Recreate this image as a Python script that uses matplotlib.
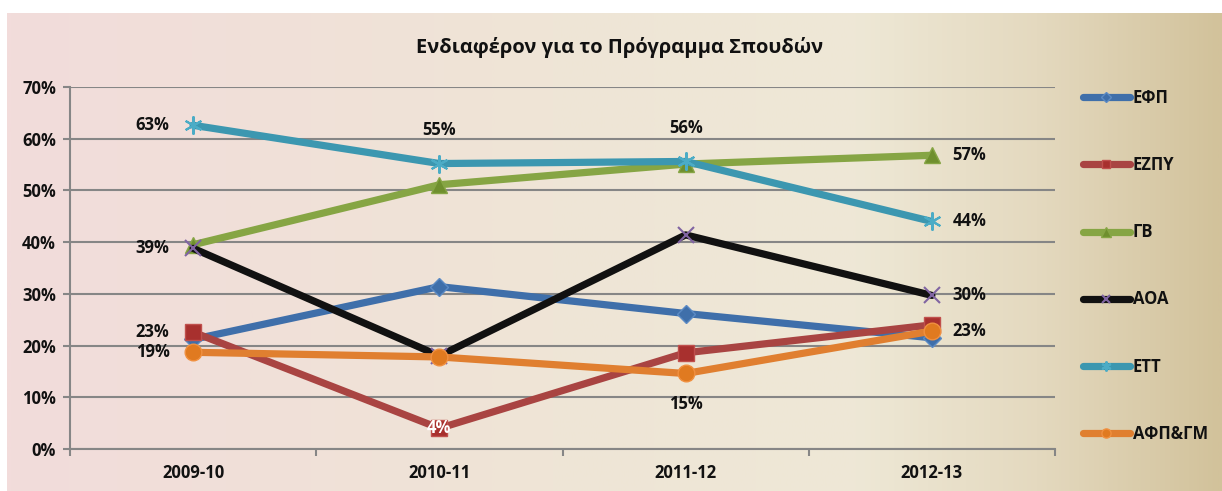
import numpy as np
import matplotlib
matplotlib.use("Agg")
import matplotlib.pyplot as plt
from matplotlib.colors import LinearSegmentedColormap
from matplotlib.ticker import PercentFormatter, FixedLocator

plt.rcParams['font.family'] = ['Open Sans', 'DejaVu Sans']

# ---- data ----
years = ["2009-10", "2010-11", "2011-12", "2012-13"]
efp = [0.212, 0.314, 0.262, 0.215]
ezpy = [0.226, 0.040, 0.186, 0.240]
gv = [0.395, 0.511, 0.551, 0.568]
aoa = [0.388, 0.180, 0.414, 0.297]
ett = [0.626, 0.552, 0.556, 0.440]
afp = [0.187, 0.178, 0.146, 0.228]

series_names = ["ΕΦΠ", "ΕΖΠΥ", "ΓΒ", "ΑΟΑ", "ΕΤΤ", "ΑΦΠ&ΓΜ"]
title = "Ενδιαφέρον για το Πρόγραμμα Σπουδών"

W, H = 1222, 491
fig = plt.figure(figsize=(W / 100, H / 100), dpi=100)
fig.patch.set_facecolor("white")

# gradient chart background
bg = fig.add_axes([7 / W, 0, 1 - 7 / W, 1 - 13 / H], zorder=-10)
cmap = LinearSegmentedColormap.from_list(
    "bg", [(0.0, "#F2DCDB"), (0.45, "#EFE5D6"), (0.7, "#EEE8D6"),
           (0.85, "#E4D9BF"), (1.0, "#D2C29B")])
bg.imshow(np.linspace(0, 1, 512)[None, :], aspect="auto", cmap=cmap,
          extent=[0, 1, 0, 1])
bg.set_axis_off()

ax = fig.add_axes([70 / W, 1 - 449 / H, 985 / W, (449 - 87) / H])
ax.set_facecolor("none")

x = np.arange(len(years))
lw = 5.2

styles = [
    (efp, dict(color="#3F6FAA", marker="D", mfc="#3F6FAA", mec="#5B8AC4", ms=9)),
    (ezpy, dict(color="#A94442", marker="s", mfc="#A8302E", mec="#C0504D", ms=11)),
    (gv, dict(color="#86A544", marker="^", mfc="#6F8F2E", mec="#86A544", ms=12)),
    (aoa, dict(color="#111111", marker="x", mfc="#8064A2", mec="#8064A2", ms=11, mew=1.5)),
    (ett, dict(color="#3C97B0", marker=(6, 2, 0), mfc="#4BACC6", mec="#4BACC6", ms=13, mew=1.5)),
    (afp, dict(color="#E07F30", marker="o", mfc="#E07A20", mec="#F09040", ms=12)),
]

handles = []
for (vals, st), name in zip(styles, series_names):
    st = dict(st)
    mew = st.pop("mew", 1.0)
    h, = ax.plot(x, vals, lw=lw, solid_capstyle="round", solid_joinstyle="round",
                 markeredgewidth=mew, label=name, zorder=3, **st)
    handles.append(h)

# data labels
FS = 12
lab_kw = dict(fontsize=FS, fontweight="bold", color="#111111", zorder=5)

def pct(v):
    return f"{int(np.floor(v * 100 + 0.5))}%"

def lab(vals, i, pos, color="#111111"):
    v = vals[i]
    offs = {"left": ((-17, 0), "right"), "right": ((15, 0), "left"),
            "above": ((0, 24), "center"), "below": ((0, -22), "center"),
            "center": ((0, 0), "center")}
    (dx, dy), ha = offs[pos]
    kw = dict(lab_kw)
    kw["color"] = color
    ax.annotate(pct(v), (i, v), xytext=(dx, dy), textcoords="offset points",
                ha=ha, va="center", **kw)

lab(ett, 0, "left")
lab(ett, 1, "above")
lab(ett, 2, "above")
lab(ett, 3, "right")
lab(gv, 3, "right")
lab(aoa, 0, "left")
lab(aoa, 3, "right")
lab(ezpy, 0, "left")
lab(ezpy, 1, "center", color="white")
lab(afp, 0, "left")
lab(afp, 2, "below")
lab(afp, 3, "right")

# axes styling
ax.set_xlim(-0.5, len(years) - 0.5)
ax.set_ylim(0, 0.7)
ax.yaxis.set_major_locator(FixedLocator(np.arange(0, 0.71, 0.1)))
ax.yaxis.set_major_formatter(PercentFormatter(1.0, decimals=0))
ax.set_xticks(x)
ax.set_xticklabels(years)
ax.set_xticks(np.arange(-0.5, len(years), 1.0), minor=True)
ax.tick_params(axis="x", which="major", length=0, pad=11)
ax.tick_params(axis="x", which="minor", length=5, width=1.5, color="#868686", direction="out")
ax.tick_params(axis="y", length=5, width=1.5, color="#868686", pad=5)
for t in ax.get_xticklabels() + ax.get_yticklabels():
    t.set_fontweight("bold")
    t.set_fontsize(FS)
    t.set_color("#111111")

ax.grid(axis="y", color="#868686", lw=1.5, zorder=1)
ax.set_axisbelow(True)
for s in ["top", "right"]:
    ax.spines[s].set_visible(False)
for s in ["left", "bottom"]:
    ax.spines[s].set_color("#868686")
    ax.spines[s].set_linewidth(1.5)

fig.text(620 / W, 1 - 47 / H, title, ha="center", va="center",
         fontsize=14.5, fontweight="bold", color="#111111")

leg = fig.legend(handles=handles, loc="upper left",
                 bbox_to_anchor=(1068 / W, 1 - 74 / H), frameon=False,
                 handlelength=2.8, handletextpad=0.2, labelspacing=2.95,
                 prop=dict(size=FS, weight="bold"), markerscale=0.55)
for t in leg.get_texts():
    t.set_color("#111111")

fig.savefig("out.png", dpi=100)
